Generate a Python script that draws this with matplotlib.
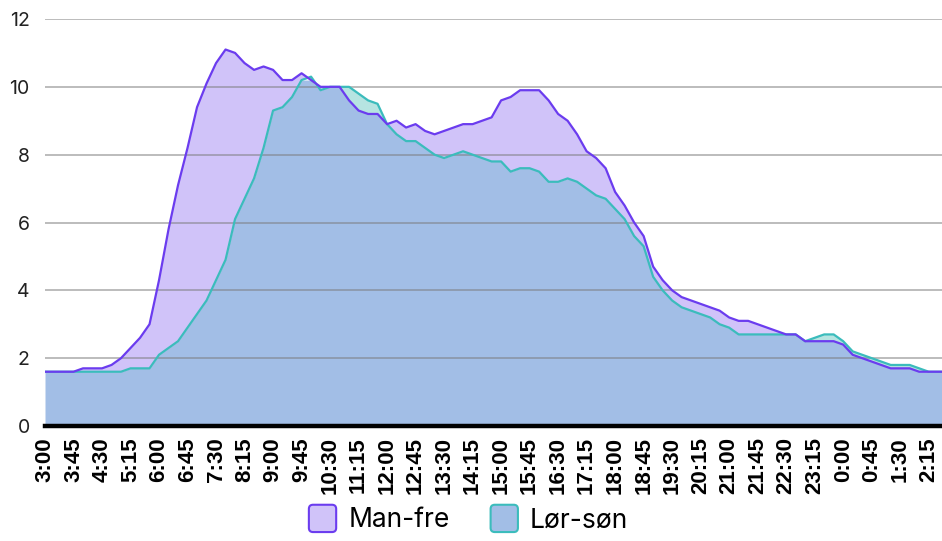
import matplotlib
matplotlib.use("Agg")
import matplotlib.pyplot as plt
from matplotlib.patches import FancyBboxPatch
from matplotlib.legend_handler import HandlerPatch
import matplotlib.patches as mpatches
import numpy as np

# ---- data -------------------------------------------------------------
times = []
for k in range(96):
    m = (3 * 60 + 15 * k) % (24 * 60)
    times.append(f"{m // 60}:{m % 60:02d}")

man_fre = [1.6, 1.6, 1.6, 1.6, 1.7, 1.7, 1.7, 1.8, 2.0, 2.3,
           2.6, 3.0, 4.3, 5.8, 7.1, 8.2, 9.4, 10.1, 10.7, 11.1,
           11.0, 10.7, 10.5, 10.6, 10.5, 10.2, 10.2, 10.4, 10.2, 10.0,
           10.0, 10.0, 9.6, 9.3, 9.2, 9.2, 8.9, 9.0, 8.8, 8.9,
           8.7, 8.6, 8.7, 8.8, 8.9, 8.9, 9.0, 9.1, 9.6, 9.7,
           9.9, 9.9, 9.9, 9.6, 9.2, 9.0, 8.6, 8.1, 7.9, 7.6,
           6.9, 6.5, 6.0, 5.6, 4.7, 4.3, 4.0, 3.8, 3.7, 3.6,
           3.5, 3.4, 3.2, 3.1, 3.1, 3.0, 2.9, 2.8, 2.7, 2.7,
           2.5, 2.5, 2.5, 2.5, 2.4, 2.1, 2.0, 1.9, 1.8, 1.7,
           1.7, 1.7, 1.6, 1.6, 1.6, 1.6]

lor_son = [1.6, 1.6, 1.6, 1.6, 1.6, 1.6, 1.6, 1.6, 1.6, 1.7,
           1.7, 1.7, 2.1, 2.3, 2.5, 2.9, 3.3, 3.7, 4.3, 4.9,
           6.1, 6.7, 7.3, 8.2, 9.3, 9.4, 9.7, 10.2, 10.3, 9.9,
           10.0, 10.0, 10.0, 9.8, 9.6, 9.5, 8.9, 8.6, 8.4, 8.4,
           8.2, 8.0, 7.9, 8.0, 8.1, 8.0, 7.9, 7.8, 7.8, 7.5,
           7.6, 7.6, 7.5, 7.2, 7.2, 7.3, 7.2, 7.0, 6.8, 6.7,
           6.4, 6.1, 5.6, 5.3, 4.4, 4.0, 3.7, 3.5, 3.4, 3.3,
           3.2, 3.0, 2.9, 2.7, 2.7, 2.7, 2.7, 2.7, 2.7, 2.7,
           2.5, 2.6, 2.7, 2.7, 2.5, 2.2, 2.1, 2.0, 1.9, 1.8,
           1.8, 1.8, 1.7, 1.6, 1.6, 1.6]

series_names = ["Man-fre", "Lør-søn"]
y_ticks = [0, 2, 4, 6, 8, 10, 12]

# ---- style ------------------------------------------------------------
PURPLE_LINE = "#6b3cef"
PURPLE_FILL = "#d0c3f9"
TEAL_LINE = "#3bbcbc"
TEAL_FILL = "#b6e4e1"
OVERLAP_FILL = "#a2bee6"

fig = plt.figure(figsize=(9.42, 5.41), dpi=100)
ax = fig.add_axes([45 / 942, 1 - 426 / 541, 1 - 45 / 942, (426 - 19) / 541])

x = np.arange(len(times))
p = np.array(man_fre)
t = np.array(lor_son)
low = np.minimum(p, t)

ax.fill_between(x, 0, low, color=OVERLAP_FILL, lw=0, zorder=1)
ax.fill_between(x, t, p, where=p >= t, interpolate=True, color=PURPLE_FILL, lw=0, zorder=1)
ax.fill_between(x, p, t, where=t >= p, interpolate=True, color=TEAL_FILL, lw=0, zorder=1)

for yv in y_ticks[1:]:
    ax.axhline(yv, color="#7a7a7a", alpha=0.5, lw=1.4, zorder=2)

ax.plot(x, p, color=PURPLE_LINE, lw=1.6, zorder=4)
ax.plot(x, t, color=TEAL_LINE, lw=1.6, zorder=3)

ax.set_xlim(0, 94.4)
ax.set_ylim(0, 12)

for s in ["top", "right", "left"]:
    ax.spines[s].set_visible(False)
ax.spines["bottom"].set_linewidth(3.2)
ax.spines["bottom"].set_color("black")
ax.spines["bottom"].set_zorder(5)

ax.set_yticks(y_ticks)
ax.set_yticklabels([str(v) for v in y_ticks], fontsize=14, family="Inter", color="#222222")
ax.set_xticks(x[::3])
ax.set_xticklabels(times[::3], rotation=90, fontsize=16, fontweight="bold",
                   family="Liberation Sans", va="top")
ax.tick_params(axis="both", length=0)
ax.tick_params(axis="y", pad=11)
ax.tick_params(axis="x", pad=8)


class RoundHandler(HandlerPatch):
    def create_artists(self, legend, orig_handle, xdescent, ydescent, width, height, fontsize, trans):
        size = min(width, height) * 1.2
        cx = -xdescent + width / 2
        cy = -ydescent + height / 2
        p_ = FancyBboxPatch((cx - size / 2, cy - size / 2), size, size,
                            boxstyle="round,pad=0,rounding_size=3",
                            facecolor=orig_handle.get_facecolor(),
                            edgecolor=orig_handle.get_edgecolor(), lw=1.5,
                            transform=trans)
        return [p_]


h1 = mpatches.Patch(facecolor=PURPLE_FILL, edgecolor=PURPLE_LINE, label=series_names[0])
h2 = mpatches.Patch(facecolor=OVERLAP_FILL, edgecolor=TEAL_LINE, label=series_names[1])
fig.legend(handles=[h1, h2], loc="lower center", bbox_to_anchor=(0.498, -0.03), ncol=2,
           frameon=False, prop={"family": "Inter", "size": 19},
           handler_map={mpatches.Patch: RoundHandler()},
           handlelength=0.95, handleheight=0.95, handletextpad=0.5, columnspacing=1.6)

fig.savefig("out.png", dpi=100)
